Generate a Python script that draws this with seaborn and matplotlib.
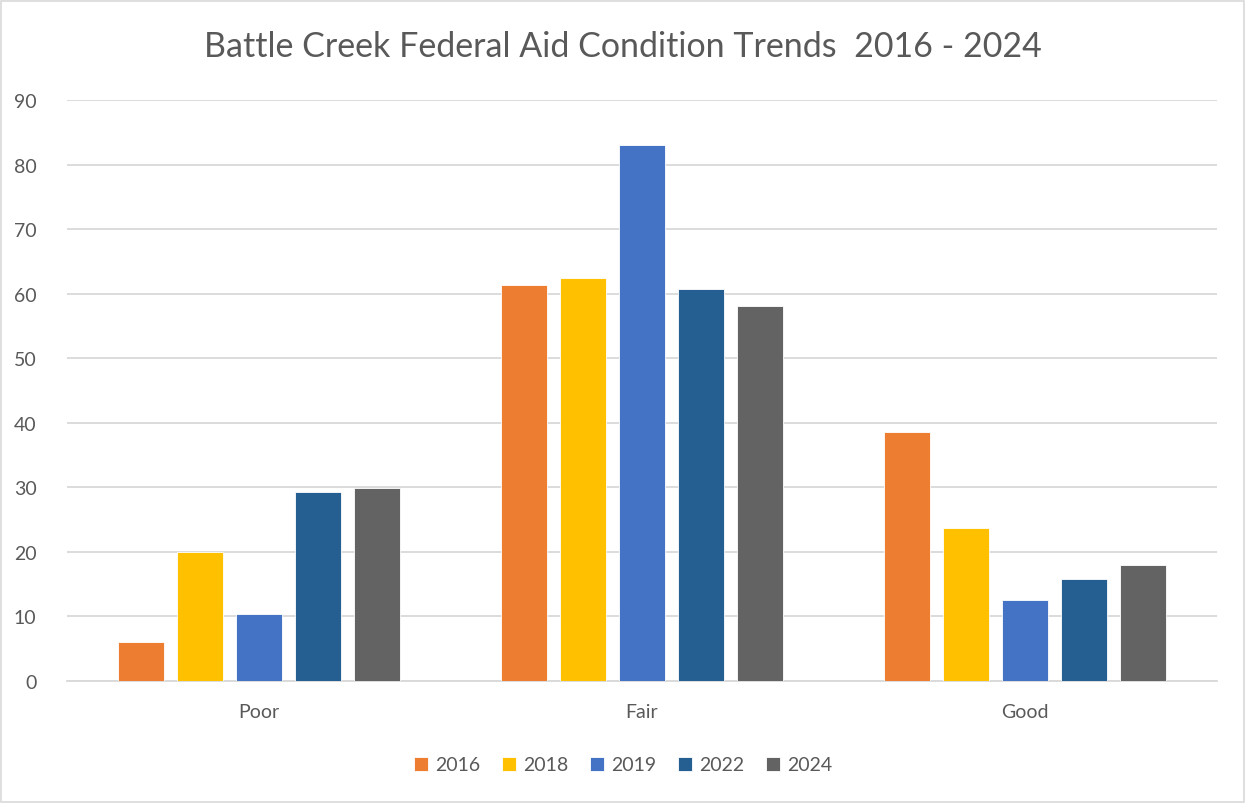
import matplotlib
matplotlib.use("Agg")
import matplotlib.pyplot as plt
import seaborn as sns
import pandas as pd
from matplotlib.patches import Rectangle

categories = ["Poor", "Fair", "Good"]
years = ["2016", "2018", "2019", "2022", "2024"]
v2016 = [6.0, 61.3, 38.6]
v2018 = [20.0, 62.4, 23.7]
v2019 = [10.4, 83.0, 12.5]
v2022 = [29.3, 60.7, 15.8]
v2024 = [29.9, 58.1, 18.0]
colors = ["#ED7D31", "#FFC000", "#4472C4", "#255E91", "#636363"]

series = [v2016, v2018, v2019, v2022, v2024]
rows = []
for y, vals in zip(years, series):
    for c, v in zip(categories, vals):
        rows.append({"Condition": c, "Year": y, "Value": v})
df = pd.DataFrame(rows)

sns.set_theme(style="white")
plt.rcParams['font.family'] = ['Lato', 'DejaVu Sans']

fig = plt.figure(figsize=(12.46, 8.04), dpi=100)
ax = fig.add_axes([67/1246, 1-682/804, 1150/1246, 581/804])

sns.barplot(data=df, x="Condition", y="Value", hue="Year", order=categories,
            hue_order=years, palette=colors, saturation=1, width=0.77, gap=0.22,
            edgecolor="white", linewidth=0.6, ax=ax, zorder=3)

ax.set_ylim(0, 90)
ax.set_xlim(-0.5, 2.5)
ax.set_yticks(range(0, 91, 10))
ax.yaxis.grid(True, color="#D9D9D9", linewidth=1.3, zorder=0)
ax.set_axisbelow(True)
for s in ["top", "right", "left"]:
    ax.spines[s].set_visible(False)
ax.spines["bottom"].set_color("#D9D9D9")
ax.spines["bottom"].set_linewidth(1.3)
ax.tick_params(axis="both", length=0, labelsize=14, colors="#595959")
ax.tick_params(axis="y", pad=22)
ax.tick_params(axis="x", pad=16)
ax.set_xlabel("")
ax.set_ylabel("")

fig.text(0.5, 1-47/804, "Battle Creek Federal Aid Condition Trends  2016 - 2024",
         ha="center", va="center", fontsize=24.5, color="#595959")

handles, labels = ax.get_legend_handles_labels()
ax.legend_.remove()
fig.legend(handles, labels, loc="center", bbox_to_anchor=(0.5, 1-766/804),
           ncol=5, frameon=False, fontsize=14, labelcolor="#595959",
           handlelength=0.75, handleheight=0.75, handletextpad=0.35, columnspacing=1.1)

fig.patches.append(Rectangle((0.001, 0.001), 0.997, 0.997, transform=fig.transFigure,
                             fill=False, edgecolor="#D9D9D9", linewidth=1.2))

fig.savefig("out.png", dpi=100, facecolor="white")
